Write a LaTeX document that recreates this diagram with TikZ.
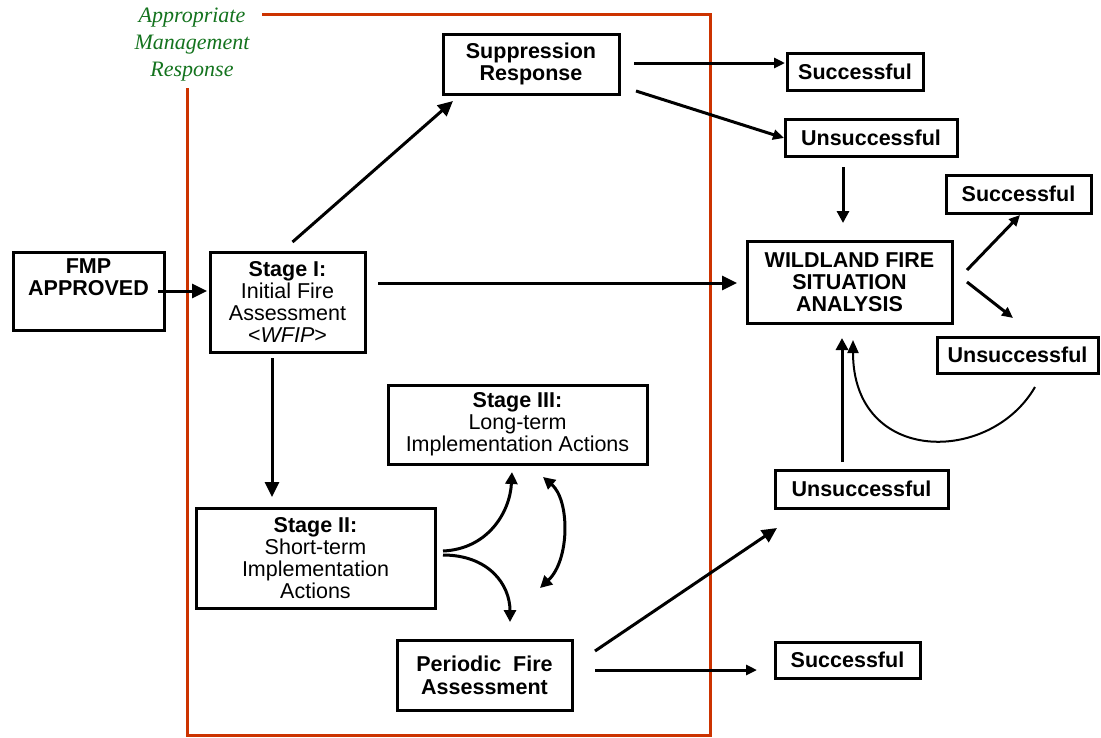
\documentclass[tikz,border=0pt]{standalone}
\usepackage{fontspec}
\setmainfont{Liberation Sans}
\newfontfamily\greenserif{Liberation Serif}
\usetikzlibrary{arrows.meta,calc}
\definecolor{redline}{RGB}{204,51,0}
\definecolor{greentext}{RGB}{20,115,30}
\begin{document}
\begin{tikzpicture}[x=1pt,y=-1pt,
  box/.style={draw,line width=3pt,inner sep=0pt,outer sep=0pt,align=center,
    font=\fontsize{21.5}{22}\selectfont},
  bbox/.style={box,font=\fontsize{21.5}{22}\selectfont\bfseries},
  arr/.style={line width=3pt,-{Triangle[length=15pt,width=14pt]}},
  marr/.style={line width=3pt,-{Triangle[length=12pt,width=12pt]}},
  sarr/.style={line width=3pt,-{Triangle[length=11pt,width=10pt]}},
  tarr/.style={line width=2pt,-{Triangle[length=13pt,width=11pt]}},
  darr/.style={line width=3pt,{Triangle[length=12pt,width=12pt]}-{Triangle[length=12pt,width=12pt]}}]
\useasboundingbox (0,0) rectangle (1101,737);

% management response frame
\draw[redline,line width=3pt] (262,14) -- (710,14) -- (710,735) -- (187,735) -- (187,88);
\node[text=greentext,align=center,inner sep=0pt,font=\greenserif\itshape\fontsize{22}{27}\selectfont] (amr) at (192,45) {Appropriate\\Management\\Response};

% boxes
\node[box,minimum width=151,minimum height=78,
  label={[align=center,inner sep=0pt,font=\fontsize{21.5}{22}\selectfont\bfseries,yshift=13.5pt]center:FMP\\APPROVED}] (fmp) at (88.5,291) {};
\node[box,minimum width=155,minimum height=100] (stage1) at (287.5,302) {\textbf{Stage I:}\\Initial Fire\\Assessment\\<\textit{WFIP}>};
\node[bbox,minimum width=176,minimum height=60] (supp) at (531,64) {Suppression\\Response};
\node[bbox,minimum width=136,minimum height=37] (succ1) at (855,71.5) {Successful};
\node[bbox,minimum width=172,minimum height=37] (uns1) at (871,137.5) {Unsuccessful};
\node[bbox,minimum width=205,minimum height=82] (wfsa) at (849.5,282) {WILDLAND FIRE\\SITUATION\\ANALYSIS};
\node[bbox,minimum width=145,minimum height=38] (succ2) at (1018.5,194) {Successful};
\node[bbox,minimum width=161,minimum height=36] (uns2) at (1017.5,355) {Unsuccessful};
\node[box,minimum width=259,minimum height=79] (stage3) at (517.5,424.5) {\textbf{Stage III:}\\Long-term\\Implementation Actions};
\node[box,minimum width=239,minimum height=100] (stage2) at (315.5,558) {\textbf{Stage II:}\\Short-term\\Implementation\\Actions};
\node[bbox,minimum width=175,minimum height=70,font=\fontsize{21.5}{23}\selectfont\bfseries] (periodic) at (484.5,675) {Periodic\ \ Fire\\Assessment};
\node[bbox,minimum width=173,minimum height=38] (uns3) at (861.5,489) {Unsuccessful};
\node[bbox,minimum width=145,minimum height=36] (succ3) at (847.5,660) {Successful};

% connectors
\draw[arr] ($(fmp.east)+(-6,0)$) -- ($(stage1.west)+(-3,-11)$);
\draw[arr] ($(stage1.north)+(5,-10)$) -- ($(supp.south)+(-78,7)$);
\draw[arr] ($(stage1.east)+(13,-19)$) -- ($(wfsa.west)+(-10,1)$);
\draw[arr] ($(stage1.south)+(-15.5,6)$) -- ($(stage2.north)+(-43.5,-11)$);
\draw[sarr] ($(supp.east)+(15,-1)$) -- ($(succ1.west)+(-2,-8.5)$);
\draw[sarr] ($(supp.east)+(17,27)$) -- ($(uns1.west)+(-1,0.5)$);
\draw[marr] ($(uns1.south)+(-28,11)$) -- ($(wfsa.north)+(-6.5,-18)$);
\draw[sarr] ($(wfsa.east)+(15,-12)$) -- ($(succ2.south)+(1.5,2)$);
\draw[sarr] ($(wfsa.east)+(15,0)$) -- ($(uns2.north)+(-4.5,-19)$);
\draw[tarr] ($(uns2.south)+(17.5,14)$) .. controls +(-45,78) and +(0,125) .. ($(wfsa.south)+(3.5,17)$);
\draw[marr] ($(uns3.north)+(-19.5,-8)$) -- ($(wfsa.south)+(-7.5,15)$);
\draw[marr] ($(stage2.east)+(8,-7)$) .. controls +(45,-2) and +(-2,40) .. ($(stage3.south)+(-5.5,8)$);
\draw[marr] ($(stage2.east)+(8,-3)$) .. controls +(45,0) and +(0,-38) .. ($(periodic.north)+(25.5,-18)$);
\draw[darr] ($(stage3.south)+(25.5,13)$) .. controls +(27,23) and +(30,-28) .. ($(periodic.north)+(55.5,-52)$);
\draw[arr] ($(periodic.east)+(23,-24)$) -- ($(uns3.south west)+(2,20)$);
\draw[sarr] ($(periodic.east)+(23,-5)$) -- ($(succ3.west)+(-18,10)$);
\end{tikzpicture}
\end{document}
